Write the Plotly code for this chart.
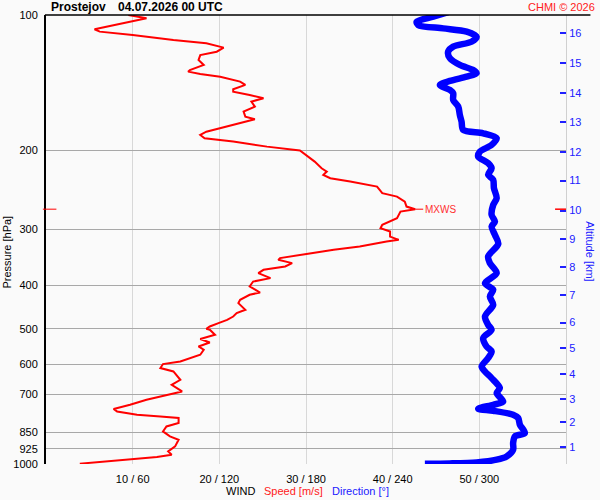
import numpy as np
import plotly.graph_objects as go

# wind speed profile: pressure [hPa] and speed [m/s]
speed_p = [100, 101.7, 107.6, 108.9, 110.8, 113.7, 115.6, 118.2, 120.7, 122.8,
           125.9, 129.2, 132.6, 133.7, 135.3, 137.2, 140.7, 143.1, 146.3, 148.2,
           150.7, 153.3, 155.9, 160.0, 164.1, 168.4, 170.6, 175.7, 181.9, 185.0,
           188.1, 191.4, 196.4, 200.4, 212.1, 219.4, 223.2, 227.0, 230.9, 235.0,
           241.1, 249.4, 253.8, 260.3, 267.1, 270.7, 274.0, 283.5, 293.4, 298.4,
           303.6, 311.5, 316.8, 319.6, 327.9, 333.4, 339.1, 345.1, 347.9, 351.0,
           357.0, 363.2, 369.4, 375.7, 385.5, 392.3, 402.4, 415.0, 419.9, 430.8,
           438.2, 453.5, 461.3, 469.4, 477.4, 485.5, 494.0, 499.9, 502.4, 515.5,
           526.9, 536.2, 547.3, 556.7, 571.1, 591.1, 599.0, 611.4, 622.2, 649.2,
           666.1, 689.3, 701.1, 719.3, 738.0, 754.4, 763.7, 776.7, 783.5, 789.9,
           810.4, 824.7, 846.1, 868.1, 882.9, 913.8, 937.5, 953.5, 964.8, 974.7,
           988.3, 998.5]
speed = [9.5, 11.6, 5.6, 6.2, 10.0, 14.7, 18.5, 20.5, 19.7, 17.8,
         17.6, 18.2, 16.6, 16.4, 17.8, 20.1, 22.4, 23.0, 21.6, 21.6,
         23.5, 25.1, 23.7, 24.1, 22.8, 23.0, 24.1, 21.6, 18.5, 17.8,
         18.3, 21.6, 25.5, 29.3, 31.0, 31.8, 32.4, 32.0, 32.8, 35.1,
         38.2, 38.8, 40.5, 41.4, 41.6, 42.6, 40.9, 40.5, 38.8, 38.6,
         39.7, 39.7, 40.7, 39.3, 36.2, 33.2, 30.5, 28.2, 27.0, 26.8,
         28.4, 27.6, 25.1, 24.5, 25.9, 23.9, 23.5, 24.7, 23.5, 22.4,
         22.2, 23.0, 22.0, 21.6, 20.9, 19.9, 18.9, 18.5, 18.9, 19.5,
         17.8, 18.9, 17.6, 18.2, 17.8, 15.5, 13.5, 13.2, 14.7, 15.5,
         14.5, 15.7, 13.9, 11.6, 9.7, 7.8, 8.2, 10.5, 13.2, 15.3,
         15.3, 13.9, 13.5, 14.3, 15.3, 14.9, 14.1, 14.5, 12.8, 10.1,
         6.2, 3.9]

# wind direction profile: pressure [hPa] and direction [deg]
dir_p = [98.6, 100.9, 103.5, 105.3, 107.1, 108.9, 111.8, 114.7, 117.6, 120.7,
         124.8, 129.2, 132.6, 134.8, 137.2, 140.2, 143.1, 146.9, 149.4, 154.6,
         160.0, 166.9, 172.8, 180.3, 183.4, 188.1, 194.7, 201.5, 206.7, 213.8,
         219.4, 227.0, 232.9, 243.0, 255.8, 264.8, 278.7, 288.4, 295.9, 308.8,
         323.4, 345.1, 357.0, 375.7, 395.5, 409.3, 423.6, 441.9, 469.4, 489.9,
         502.4, 524.3, 547.3, 561.6, 580.9, 606.4, 622.2, 643.6, 677.4, 695.0,
         725.7, 738.0, 753.3, 761.0, 776.7, 789.9, 817.6, 853.2, 868.1, 898.0,
         929.3, 961.8, 978.2, 991.9, 997.0, 998.5]
direction = [278.4, 268.1, 256.6, 257.7, 275.0, 291.2, 298.1, 294.6, 281.9, 278.4,
             279.6, 286.5, 295.8, 298.1, 291.2, 279.6, 272.7, 279.6, 281.9, 281.9,
             285.4, 286.5, 287.7, 288.8, 302.7, 312.0, 308.5, 300.4, 299.2, 306.1,
             308.5, 306.1, 309.6, 310.1, 312.0, 309.6, 308.5, 310.8, 308.5, 310.8,
             313.1, 306.1, 307.3, 312.0, 303.9, 309.6, 307.3, 309.6, 303.9, 306.1,
             308.5, 302.7, 305.0, 308.5, 306.1, 301.6, 303.9, 308.5, 314.2, 312.0,
             316.5, 309.6, 299.2, 309.6, 323.4, 326.9, 328.1, 331.5, 324.6, 323.4,
             323.4, 318.9, 312.0, 298.1, 279.6, 262.3]

p_ticks = [100, 200, 300, 400, 500, 600, 700, 850, 925, 1000]
speed_ticks = [10, 20, 30, 40, 50]
dir_ticks = [60, 120, 180, 240, 300]
alt_km = [1, 2, 3, 4, 5, 6, 7, 8, 9, 10, 11, 12, 13, 14, 15, 16]
alt_p = [915.1, 806.3, 716.7, 629.5, 552.9, 484.0, 420.6, 364.3,
         315.7, 272.6, 233.8, 201.8, 172.8, 149.4, 128.1, 109.8]

FONT = 'Liberation Sans, Arial, sans-serif'

fig = go.Figure()

# wind speed (red, bottom scale in m/s)
fig.add_trace(go.Scatter(
    x=speed, y=speed_p, mode='lines',
    line=dict(color='#ff0000', width=2),
    xaxis='x', yaxis='y', hoverinfo='skip'
))

# wind direction (blue, same scale read in degrees)
fig.add_trace(go.Scatter(
    x=direction, y=dir_p, mode='lines',
    line=dict(color='#0000ff', width=6.5, shape='spline', smoothing=0.8),
    xaxis='x2', yaxis='y2', hoverinfo='skip'
))

# max wind level
imax = int(np.argmax(speed))
p_max = speed_p[imax]
y_max_paper = 3 - np.log10(p_max)

fig.add_annotation(
    x=speed[imax], y=np.log10(p_max), xref='x', yref='y',
    text='MXWS', showarrow=True, arrowhead=0, arrowwidth=1, arrowcolor='#ff0000',
    ax=8, ay=0, xanchor='left', font=dict(family=FONT, size=10, color='#ff3030')
)

shapes = [
    # top frame line, runs past the plot to the right
    dict(type='line', xref='paper', yref='paper', x0=-0.002, x1=1.047, y0=1, y1=1,
         line=dict(color='black', width=1.5)),
    # MXWS marks on both axes
    dict(type='line', xref='paper', yref='paper', x0=-0.006, x1=0.02,
         y0=y_max_paper, y1=y_max_paper, line=dict(color='#ff0000', width=1)),
    dict(type='line', xref='paper', yref='paper', x0=0.979, x1=1.0,
         y0=y_max_paper, y1=y_max_paper, line=dict(color='#ff0000', width=1.5)),
]

fig.update_layout(
    width=600, height=500,
    margin=dict(l=46, r=34, t=15, b=36, autoexpand=False),
    paper_bgcolor='#fafafa', plot_bgcolor='#fafafa',
    showlegend=False,
    font=dict(family=FONT, size=11, color='black'),
    shapes=shapes,
    xaxis=dict(
        range=[0, 60], tickvals=speed_ticks,
        ticktext=[f'{s} / {d}' for s, d in zip(speed_ticks, dir_ticks)],
        showgrid=True, gridcolor='#d8d8d8', gridwidth=1,
        zeroline=False, showline=False, ticks='', ticklabelstandoff=7
    ),
    xaxis2=dict(range=[0, 360], overlaying='x', visible=False),
    yaxis=dict(
        type='log', range=[3, 2], tickvals=p_ticks,
        ticktext=[str(p) for p in p_ticks],
        showgrid=True, gridcolor='#a8a8a8', gridwidth=1,
        zeroline=False, showline=True, linecolor='black', linewidth=2,
        ticks='', ticklabelstandoff=4
    ),
    yaxis2=dict(
        type='log', range=[3, 2], overlaying='y', side='right',
        tickvals=alt_p, ticktext=[str(a) for a in alt_km],
        ticks='inside', ticklen=6, tickwidth=2, tickcolor='#2020ff',
        tickfont=dict(color='#2020ff', size=11),
        showgrid=False, zeroline=False,
        showline=True, linecolor='#d0d0d0', linewidth=1
    ),
)

# titles and labels
def note(text, x, y, color='black', size=11, bold=False, xanchor='left', angle=0):
    if bold:
        text = '<b>' + text + '</b>'
    fig.add_annotation(
        text=text, x=x, y=y, xref='paper', yref='paper', showarrow=False,
        xanchor=xanchor, yanchor='middle', textangle=angle,
        font=dict(family=FONT, size=size, color=color)
    )

note('Prostejov', 0.006, 1.018, size=12, bold=True)
note('04.07.2026 00 UTC', 0.134, 1.018, size=12, bold=True)
note('CHMI © 2026', 1.059, 1.018, color='#ff2020', size=11, xanchor='right')
note('Pressure [hPa]', -0.074, 0.472, xanchor='center', angle=-90)
note('Altitude [km]', 1.046, 0.472, color='#2020ff', xanchor='center', angle=90)
note('WIND', 0.342, -0.060)
note('Speed [m/s]', 0.416, -0.060, color='#ff2020')
note('Direction [°]', 0.547, -0.060, color='#2020ff')

# page body margin would shift the 600x500 figure, so drop it
fig.write_html("out.html", config={'displayModeBar': False},
               post_script="document.body.style.margin='0px';")
